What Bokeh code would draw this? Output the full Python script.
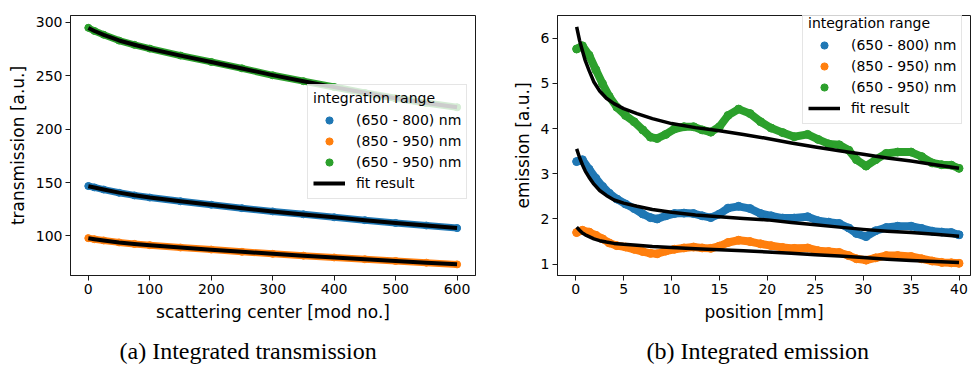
from bokeh.plotting import figure
from bokeh.layouts import row
from bokeh.models import Legend, LegendItem, Title, FixedTicker, Range1d
from bokeh.embed import file_html
from bokeh.resources import INLINE

BLUE = "#1f77b4"
ORANGE = "#ff7f0e"
GREEN = "#2ca02c"
FONT = "DejaVu Sans"
INK = "#000000"

# ---- (a) integrated transmission vs scattering center ----
center = [0, 10, 25, 50, 75, 100, 150, 200, 250, 300, 350, 400, 450, 500, 550, 600]
trans_650_800 = [146.8, 145.5, 143.5, 140.5, 138.0, 136.0, 132.5, 129.3, 126.0, 123.0,
                 120.3, 117.5, 114.8, 112.2, 109.8, 107.4]
trans_850_950 = [98.0, 97.0, 95.8, 94.0, 92.6, 91.4, 89.2, 87.3, 85.2, 83.3,
                 81.6, 79.9, 78.2, 76.6, 75.0, 73.4]
trans_650_950 = [295.0, 292.0, 288.5, 283.0, 279.0, 275.5, 269.0, 263.0, 257.0, 250.5,
                 245.0, 239.5, 234.0, 229.0, 224.5, 220.5]
trans_fit_650_800 = [146.6, 145.4, 143.5, 140.6, 138.1, 136.0, 132.5, 129.2, 126.0, 123.0,
                     120.2, 117.5, 114.8, 112.2, 109.8, 107.4]
trans_fit_850_950 = [97.9, 97.0, 95.8, 94.0, 92.6, 91.4, 89.2, 87.2, 85.2, 83.3,
                     81.5, 79.8, 78.2, 76.6, 75.0, 73.5]
trans_fit_650_950 = [294.8, 292.0, 288.4, 283.1, 279.1, 275.4, 268.9, 262.9, 256.9, 250.7,
                     245.0, 239.4, 234.1, 229.0, 224.6, 220.6]

# ---- (b) integrated emission vs position ----
pos = [0.1, 0.7, 1.4, 2.1, 2.8, 3.5, 4.3, 5.2, 6.1, 7.0, 7.8, 8.5, 9.4, 10.3, 11.3, 12.3,
       13.2, 14.1, 15.0, 15.9, 17.0, 18.2, 19.3, 20.4, 21.6, 22.8, 24.2, 25.3, 26.4, 27.5,
       28.5, 29.3, 30.3, 31.3, 32.4, 33.6, 35.0, 36.1, 37.2, 38.2, 39.2, 40.0]
emis_650_800 = [3.27, 3.31, 3.10, 2.90, 2.72, 2.57, 2.44, 2.33, 2.23, 2.11, 2.03, 2.00,
                2.07, 2.12, 2.13, 2.12, 2.07, 2.03, 2.11, 2.24, 2.28, 2.23, 2.12, 2.07,
                2.02, 2.02, 2.05, 1.96, 1.93, 1.90, 1.80, 1.68, 1.61, 1.74, 1.81, 1.84,
                1.84, 1.79, 1.73, 1.71, 1.70, 1.65]
emis_850_950 = [1.70, 1.75, 1.71, 1.64, 1.56, 1.47, 1.41, 1.38, 1.33, 1.28, 1.24, 1.23,
                1.29, 1.33, 1.36, 1.38, 1.36, 1.35, 1.40, 1.48, 1.53, 1.50, 1.45, 1.41,
                1.37, 1.35, 1.36, 1.30, 1.28, 1.26, 1.19, 1.12, 1.09, 1.14, 1.19, 1.19,
                1.17, 1.12, 1.07, 1.04, 1.03, 1.02]
emis_650_950 = [5.76, 5.83, 5.62, 5.30, 4.99, 4.71, 4.47, 4.29, 4.15, 3.97, 3.81, 3.78,
                3.87, 3.99, 4.04, 4.04, 3.97, 3.92, 4.04, 4.29, 4.43, 4.33, 4.15, 4.01,
                3.91, 3.82, 3.87, 3.76, 3.66, 3.64, 3.52, 3.31, 3.17, 3.31, 3.45, 3.48,
                3.48, 3.38, 3.24, 3.20, 3.19, 3.12]
fit_pos = [0.1, 0.4, 0.7, 1.0, 1.4, 1.9, 2.5, 3.2, 4.0, 5.0, 6.4, 8.0, 10.0, 12.5, 15.0,
           17.5, 20.0, 22.5, 25.0, 27.5, 30.0, 32.5, 35.0, 37.5, 40.0]
emis_fit_650_800 = [3.55, 3.36, 3.20, 3.06, 2.92, 2.77, 2.63, 2.52, 2.42, 2.35, 2.28, 2.21,
                    2.15, 2.09, 2.05, 2.01, 1.98, 1.92, 1.87, 1.82, 1.77, 1.73, 1.70, 1.66,
                    1.62]
emis_fit_850_950 = [1.82, 1.75, 1.69, 1.65, 1.61, 1.56, 1.52, 1.49, 1.46, 1.44, 1.42, 1.39,
                    1.37, 1.34, 1.32, 1.30, 1.27, 1.24, 1.21, 1.18, 1.15, 1.11, 1.08, 1.06,
                    1.04]
emis_fit_650_950 = [6.25, 5.95, 5.72, 5.50, 5.28, 5.03, 4.83, 4.67, 4.55, 4.44, 4.33, 4.22,
                    4.11, 4.02, 3.95, 3.87, 3.78, 3.68, 3.59, 3.51, 3.43, 3.35, 3.28, 3.20,
                    3.12]

labels = ["(650 - 800) nm", "(850 - 950) nm", "(650 - 950) nm"]
colors = [BLUE, ORANGE, GREEN]


def style(p):
    p.outline_line_color = "#1a1a1a"
    p.outline_line_width = 1
    p.xgrid.visible = False
    p.ygrid.visible = False
    for ax in (p.xaxis[0], p.yaxis[0]):
        ax.axis_line_color = "#1a1a1a"
        ax.major_tick_line_color = "#1a1a1a"
        ax.major_tick_in = 0
        ax.major_tick_out = 5
        ax.minor_tick_line_color = None
        ax.major_label_standoff = 3
        ax.major_label_text_font = FONT
        ax.major_label_text_font_size = "14px"
        ax.major_label_text_color = INK
        ax.axis_label_text_font = FONT
        ax.axis_label_text_font_size = "17px"
        ax.axis_label_text_font_style = "normal"
        ax.axis_label_text_color = INK
        ax.axis_label_standoff = 5


def add_legend(p, scatter_renderers, fit_renderer, loc):
    items = [LegendItem(label=lab, renderers=[r]) for lab, r in zip(labels, scatter_renderers)]
    items.append(LegendItem(label="fit result", renderers=[fit_renderer]))
    leg = Legend(items=items, title="integration range", location=loc)
    leg.title_text_font = FONT
    leg.title_text_font_size = "14px"
    leg.title_text_font_style = "normal"
    leg.title_text_color = INK
    leg.title_standoff = 3
    leg.label_text_font = FONT
    leg.label_text_font_size = "14px"
    leg.label_text_color = INK
    leg.glyph_width = 32
    leg.glyph_height = 18
    leg.label_height = 21
    leg.label_standoff = 11
    leg.spacing = 0
    leg.padding = 5
    leg.margin = 0
    leg.border_line_color = "#cccccc"
    leg.background_fill_alpha = 0.8
    p.add_layout(leg)


def caption(p, text, offset):
    t = Title(text=text, align="left", offset=offset, standoff=22,
              text_font="Liberation Serif", text_font_size="24px",
              text_font_style="normal", text_color=INK)
    p.add_layout(t, "below")


# panel (a)
pa = figure(width=480, height=374, output_backend="svg", toolbar_location=None,
            x_range=Range1d(-29, 630), y_range=Range1d(63, 306.5),
            min_border_left=70, min_border_right=5, min_border_top=15, min_border_bottom=96,
            x_axis_label="scattering center [mod no.]", y_axis_label="transmission [a.u.]")
style(pa)
pa.xaxis.ticker = FixedTicker(ticks=[0, 100, 200, 300, 400, 500, 600])
pa.yaxis.ticker = FixedTicker(ticks=[100, 150, 200, 250, 300])

sc_a = []
for ys, c in zip([trans_650_800, trans_850_950, trans_650_950], colors):
    pa.line(center, ys, color=c, line_width=7, line_join="round", line_cap="round")
    sc_a.append(pa.scatter(center, ys, size=7, color=c))
fit_a = None
for ys in [trans_fit_650_800, trans_fit_850_950, trans_fit_650_950]:
    fit_a = pa.line(center, ys, color="black", line_width=4, line_join="round")
add_legend(pa, sc_a, fit_a, (237, 76))
caption(pa, "(a) Integrated transmission", 49)

# panel (b)
pb = figure(width=491, height=374, output_backend="svg", toolbar_location=None,
            x_range=Range1d(-1.9, 41.2), y_range=Range1d(0.75, 6.5),
            min_border_left=77, min_border_right=1, min_border_top=3, min_border_bottom=97,
            x_axis_label="position [mm]", y_axis_label="emission [a.u.]")
style(pb)
pb.xaxis.ticker = FixedTicker(ticks=[0, 5, 10, 15, 20, 25, 30, 35, 40])
pb.yaxis.ticker = FixedTicker(ticks=[1, 2, 3, 4, 5, 6])

sc_b = []
for ys, c in zip([emis_650_800, emis_850_950, emis_650_950], colors):
    pb.line(pos, ys, color=c, line_width=8, line_join="round", line_cap="round")
    sc_b.append(pb.scatter(pos, ys, size=8, color=c))
fit_b = None
for ys in [emis_fit_650_800, emis_fit_850_950, emis_fit_650_950]:
    fit_b = pb.line(fit_pos, ys, color="black", line_width=3.5, line_join="round")
add_legend(pb, sc_b, fit_b, (245, 151))
caption(pb, "(b) Integrated emission", 89)

layout = row(pa, pb)
open("out.html", "w").write(file_html(layout, INLINE))
